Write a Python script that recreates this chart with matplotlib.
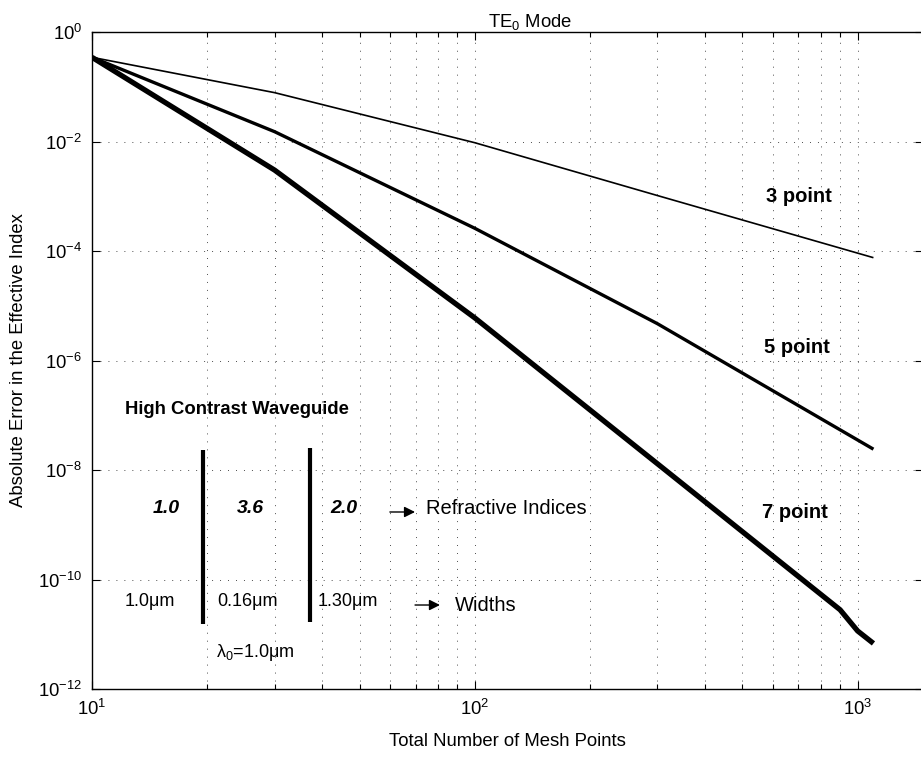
import matplotlib
matplotlib.use("Agg")
import matplotlib.pyplot as plt
from matplotlib import ticker

plt.rcParams['font.family'] = ['Liberation Sans', 'DejaVu Sans']
plt.rcParams['mathtext.fontset'] = 'custom'
plt.rcParams['mathtext.rm'] = 'Liberation Sans'
plt.rcParams['mathtext.it'] = 'Liberation Sans:italic'
plt.rcParams['mathtext.bf'] = 'Liberation Sans:bold'
plt.rcParams['mathtext.default'] = 'regular'

# data
n_3 = [10, 30, 100, 300, 1100]
err_3 = [0.345, 0.078, 9.5e-3, 1.03e-3, 7.55e-5]

n_5 = [10, 30, 100, 300, 1100]
err_5 = [0.345, 0.0151, 2.6e-4, 4.7e-6, 2.4e-8]

n_7 = [10, 30, 100, 300, 900, 1000, 1100]
err_7 = [0.345, 3.0e-3, 6.0e-6, 1.3e-8, 2.8e-11, 1.15e-11, 6.8e-12]

curve_labels = ["3 point", "5 point", "7 point"]
label_x = [577, 569, 562]
label_y = [1.0e-3, 1.7e-6, 1.64e-9]

layer_index = ["1.0", "3.6", "2.0"]
layer_width = ["1.0\u03bcm", "0.16\u03bcm", "1.30\u03bcm"]
layer_x = [15.6, 25.9, 45.5]
width_x = [14.2, 25.5, 46.5]
interface_x = [19.5, 37.1]

yticks = [1e0, 1e-2, 1e-4, 1e-6, 1e-8, 1e-10, 1e-12]

fig = plt.figure(figsize=(9.21, 7.58), dpi=100)
# right edge of the axes sits just past the image border, as in the original
ax = fig.add_axes([92/921, 1 - 689/758, 831/921, 657/758])

ax.plot(n_3, err_3, color='black', lw=1.2, solid_capstyle='butt')
ax.plot(n_5, err_5, color='black', lw=2.4, solid_capstyle='butt')
ax.plot(n_7, err_7, color='black', lw=3.8, solid_capstyle='butt')

ax.set_xscale('log')
ax.set_yscale('log')
ax.set_xlim(10, 1482)
ax.set_ylim(1e-12, 1e0)

ax.set_yticks(yticks)
ax.yaxis.set_minor_locator(ticker.NullLocator())
ax.yaxis.set_major_formatter(ticker.LogFormatterSciNotation())
ax.xaxis.set_major_locator(ticker.LogLocator(base=10))
ax.xaxis.set_minor_locator(ticker.LogLocator(base=10, subs=range(2, 10)))
ax.xaxis.set_minor_formatter(ticker.NullFormatter())

ax.tick_params(which='both', direction='in', top=True, right=True, labelsize=13.3)
ax.tick_params(which='major', length=6, width=0.8, pad=7)
ax.tick_params(which='minor', length=3.5, width=0.8)
for s in ax.spines.values():
    s.set_linewidth(1.0)

ax.grid(True, which='major', axis='both', color='0.3', lw=0.7, linestyle=(0, (1, 7.2)))
ax.grid(True, which='minor', axis='x', color='0.3', lw=0.7, linestyle=(0, (1, 7.2)))
ax.set_axisbelow(True)

ax.set_xlabel("Total Number of Mesh Points", fontsize=13.3, labelpad=10)
ax.set_ylabel("Absolute Error in the Effective Index", fontsize=13.3, labelpad=8)
ax.text(0.527, 1.0076, "TE$_0$ Mode", transform=ax.transAxes, ha='center', va='baseline', fontsize=13.3)

for lab, x, y in zip(curve_labels, label_x, label_y):
    ax.text(x, y, lab, fontsize=14.5, fontweight='bold', ha='left', va='center')

# waveguide sketch
ax.text(12.2, 1.3e-7, "High Contrast Waveguide", fontsize=13.3, fontweight='bold', ha='left', va='center')
ax.plot([interface_x[0]] * 2, [2.3e-8, 1.54e-11], color='black', lw=3, solid_capstyle='butt')
ax.plot([interface_x[1]] * 2, [2.5e-8, 1.67e-11], color='black', lw=3, solid_capstyle='butt')
for lab, x in zip(layer_index, layer_x):
    ax.text(x, 1.94e-9, lab, fontsize=14, fontweight='bold', style='italic', ha='center', va='center')
for lab, x in zip(layer_width, width_x):
    ax.text(x, 3.9e-11, lab, fontsize=13, ha='center', va='center')
ax.annotate("", xy=(69.8, 1.71e-9), xytext=(60.0, 1.71e-9),
            arrowprops=dict(arrowstyle='-|>', color='black', lw=1, mutation_scale=16, shrinkA=0, shrinkB=0))
ax.text(74.6, 1.94e-9, "Refractive Indices", fontsize=14.5, ha='left', va='center')
ax.annotate("", xy=(81.1, 3.42e-11), xytext=(69.8, 3.42e-11),
            arrowprops=dict(arrowstyle='-|>', color='black', lw=1, mutation_scale=16, shrinkA=0, shrinkB=0))
ax.text(88.7, 3.42e-11, "Widths", fontsize=14.5, ha='left', va='center')
ax.text(21.1, 4.6e-12, "$\\lambda_0$=1.0\u03bcm", fontsize=13, ha='left', va='center')

fig.savefig("out.png", dpi=100)
